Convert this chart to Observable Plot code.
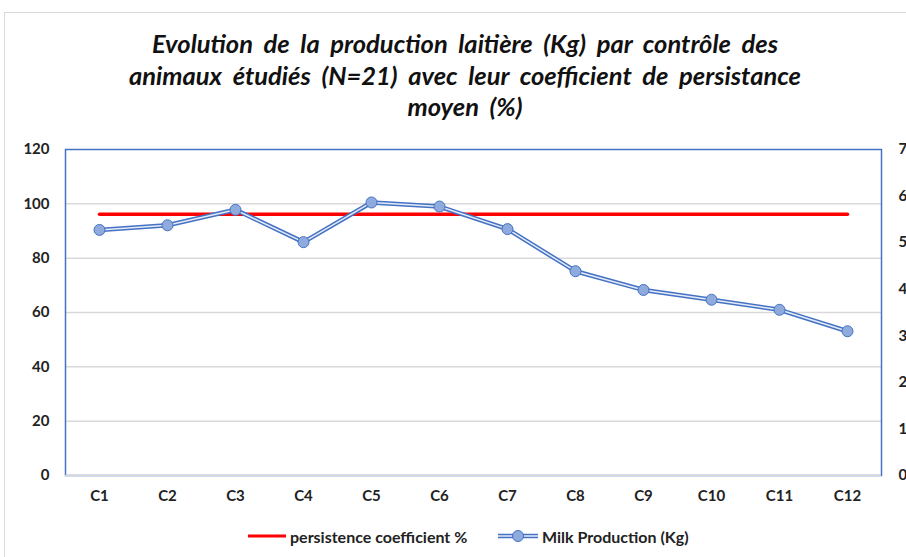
<!DOCTYPE html>
<html>
<head>
<meta charset="utf-8">
<script src="https://cdn.jsdelivr.net/npm/d3@7"></script>
<script src="https://cdn.jsdelivr.net/npm/@observablehq/plot@0.6"></script>
<style>
  html, body { margin: 0; padding: 0; background: #fff; overflow: hidden; width: 906px; height: 557px; }
  #card { position: absolute; left: 4px; top: 12px; width: 1000px; height: 700px; border-left: 1.5px solid #d9d9d9; border-top: 1.5px solid #d9d9d9; }
  #title { position: absolute; left: 0; width: 930px; top: 28px; text-align: center;
    font-family: Lato, "Open Sans", sans-serif; font-weight: bold; font-style: italic;
    font-size: 25.5px; line-height: 31.5px; color: #111; word-spacing: 5px; }
  #chart { position: absolute; left: 0; top: 130px; width: 930px; }
  #chart svg { max-width: none !important; width: 930px; }
  #legend { position: absolute; top: 526px; left: 0; width: 906px; height: 20px;
    font-family: Lato, sans-serif; font-weight: bold; font-size: 16px; color: #222; }
  .item { position: absolute; top: 0; display: flex; align-items: center; height: 20px; }
  .item svg { margin-right: 4px; }
</style>
</head>
<body>
<div id="card"></div>
<div id="title">Evolution de la production laitière (Kg) par contrôle des<br>animaux étudiés (N=21) avec leur coefficient de persistance<br>moyen (%)</div>
<div id="chart"></div>
<div id="legend">
  <div class="item" style="left:248px"><svg width="38" height="10"><line x1="0" x2="38" y1="5" y2="5" stroke="#FF0000" stroke-width="3"/></svg><span id="lg1"></span></div>
  <div class="item" style="left:498px"><svg width="40" height="14"><line x1="0" x2="40" y1="7" y2="7" stroke="#4472C4" stroke-width="4.5"/><line x1="0" x2="40" y1="7" y2="7" stroke="#E4EBF7" stroke-width="1.5"/><circle cx="20" cy="7" r="5.5" fill="#8FAADC" stroke="#4472C4" stroke-width="1"/></svg><span id="lg2"></span></div>
</div>
<script>
const categories = ["C1","C2","C3","C4","C5","C6","C7","C8","C9","C10","C11","C12"];
const milkProduction = [90.4, 92.1, 97.8, 85.9, 100.5, 99.0, 90.7, 75.2, 68.3, 64.7, 61.0, 53.1];
const persistenceCoefficient = 56.1; // % on right axis
const leftTicks = [0, 20, 40, 60, 80, 100, 120];
const rightTicks = [0, 10, 20, 30, 40, 50, 60, 70];
const seriesNames = ["persistence coefficient %", "Milk Production (Kg)"];

const leftMax = 120, rightMax = 70;
const toLeft = v => v * leftMax / rightMax;

const milkData = categories.map((c, i) => ({c, v: milkProduction[i]}));
const persData = categories.map(c => ({c, v: toLeft(persistenceCoefficient)}));

document.getElementById("lg1").textContent = seriesNames[0];
document.getElementById("lg2").textContent = seriesNames[1];

const fontFam = "Lato, sans-serif";
const chart = Plot.plot({
  width: 930,
  height: 390,
  marginLeft: 65,
  marginRight: 49,
  marginTop: 19,
  marginBottom: 45,
  style: { fontFamily: fontFam, fontSize: "15px", fontWeight: "bold", color: "#222", background: "transparent", maxWidth: "none" },
  x: { type: "point", domain: categories, padding: 0.5, label: null },
  y: { domain: [0, leftMax], label: null },
  marks: [
    Plot.gridY(leftTicks.filter(t => t > 0 && t < leftMax), { stroke: "#d9d9d9", strokeOpacity: 1, strokeWidth: 1.5 }),
    Plot.frame({ stroke: "#4472C4", strokeWidth: 1.5 }),
    Plot.ruleY([0], { stroke: "#d9d9d9", strokeWidth: 1.5 }),
    Plot.axisY(leftTicks, { anchor: "left", tickSize: 0, tickPadding: 16, label: null, fontSize: 15 }),
    Plot.axisY(rightTicks.map(toLeft), { anchor: "right", tickSize: 0, tickPadding: 17, label: null, tickFormat: d => String(Math.round(d * rightMax / leftMax)), fontSize: 15 }),
    Plot.axisX(categories, { tickSize: 0, tickPadding: 15, label: null, fontSize: 15 }),
    Plot.line(persData, { x: "c", y: "v", stroke: "#FF0000", strokeWidth: 3.5 }),
    Plot.line(milkData, { x: "c", y: "v", stroke: "#4472C4", strokeWidth: 4.5 }),
    Plot.line(milkData, { x: "c", y: "v", stroke: "#E4EBF7", strokeWidth: 1.5 }),
    Plot.dot(milkData, { x: "c", y: "v", r: 5.5, fill: "#8FAADC", stroke: "#4472C4", strokeWidth: 1 })
  ]
});
document.getElementById("chart").appendChild(chart);
</script>
</body>
</html>
